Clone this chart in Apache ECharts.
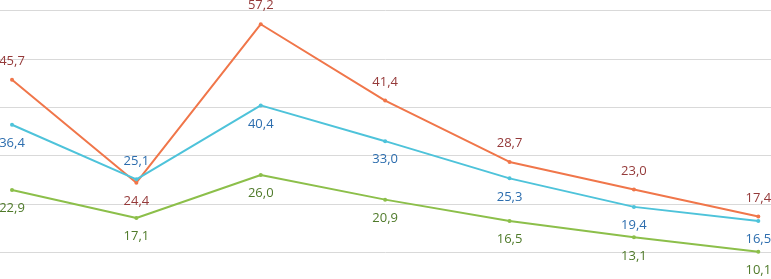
<!DOCTYPE html>
<html><head><meta charset="utf-8">
<script src="https://cdn.jsdelivr.net/npm/echarts@6/dist/echarts.min.js"></script>
<style>html,body{margin:0;padding:0;background:#fff}#c{width:771px;height:279px}</style>
</head><body><div id="c"></div>
<script>
const categories = ['1','2','3','4','5','6','7'];
const orangeValues = [45.7, 24.4, 57.2, 41.4, 28.7, 23.0, 17.4];
const blueValues = [36.4, 25.1, 40.4, 33.0, 25.3, 19.4, 16.5];
const greenValues = [22.9, 17.1, 26.0, 20.9, 16.5, 13.1, 10.1];
const orangeLabelPos = ['top','bottom','top','top','top','top','top'];
const blueLabelPos = ['bottom','top','bottom','bottom','bottom','bottom','bottom'];
const greenLabelPos = ['bottom','bottom','bottom','bottom','bottom','bottom','bottom'];

function fmt(v){ return v.toFixed(1).replace('.', ','); }
function mk(name, vals, pos, lineColor, labelColor){
  return {
    name, type:'line', xAxisIndex:0, yAxisIndex:0,
    data: vals.map((v,i)=>({value:v, label:{position:pos[i]}})),
    symbol:'circle', symbolSize:4, showSymbol:true,
    lineStyle:{color:lineColor, width:2}, itemStyle:{color:lineColor},
    label:{show:true, distance:10, color:labelColor, fontFamily:'Open Sans', fontSize:13,
      formatter:p=>fmt(p.value)},
    animation:false
  };
}
const chart = echarts.init(document.getElementById('c'), null, {renderer:'canvas'});
chart.setOption({
  animation:false,
  grid:[
    {left:12, right:12.7, top:10.7, bottom:26.7},
    {left:0, right:0, top:10.7, bottom:26.7}
  ],
  xAxis:[
    {gridIndex:0, type:'category', data:categories, boundaryGap:false,
      axisLine:{show:false}, axisTick:{show:false}, axisLabel:{show:false}, splitLine:{show:false}},
    {gridIndex:1, type:'category', data:categories, boundaryGap:false, show:false}
  ],
  yAxis:[
    {gridIndex:0, type:'value', min:10, max:60, interval:10,
      axisLine:{show:false}, axisTick:{show:false}, axisLabel:{show:false}, splitLine:{show:false}},
    {gridIndex:1, type:'value', min:10, max:60, interval:10,
      axisLine:{show:false}, axisTick:{show:false}, axisLabel:{show:false},
      splitLine:{show:true, lineStyle:{color:'#D9D9D9', width:1}}}
  ],
  series:[
    mk('A', orangeValues, orangeLabelPos, '#F0764A', '#953A3A'),
    mk('B', blueValues, blueLabelPos, '#4EC3DA', '#2C6DAE'),
    mk('C', greenValues, greenLabelPos, '#8CBF4A', '#4F7A2A')
  ]
});
</script></body></html>
